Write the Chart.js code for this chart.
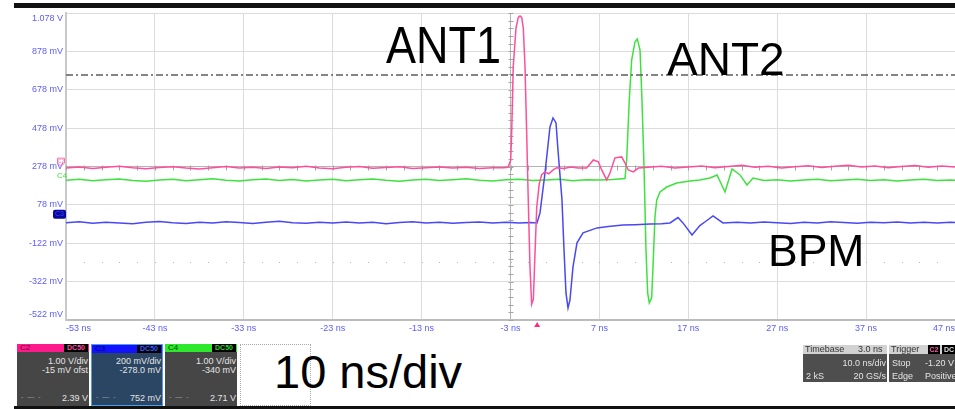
<!DOCTYPE html>
<html>
<head>
<meta charset="utf-8">
<script src="https://cdn.jsdelivr.net/npm/chart.js@4/dist/chart.umd.min.js"></script>
<style>
  html, body { margin:0; padding:0; background:#fff; }
  body { width:955px; height:409px; overflow:hidden; position:relative; font-family:'Liberation Sans', Arial, sans-serif; }
  #wrap { position:absolute; left:0; top:0; width:955px; height:340px; }
  .bar { position:absolute; background:#111; }
  .anno { position:absolute; color:#000; line-height:1; white-space:nowrap; font-family:'Liberation Sans', Arial, sans-serif; }
  .panel { position:absolute; overflow:hidden; box-sizing:border-box; font-size:9px; color:#e4e4e4; }
  .hdr { position:absolute; left:0; top:0; right:0; height:8px; font-size:8px; line-height:8px; }
  .hdr .cn { position:absolute; left:3px; top:0; }
  .hdr .badge { position:absolute; right:1px; top:0; width:24px; height:8px; background:#000; font-size:7px; line-height:8px; text-align:center; font-weight:bold; }
  .ln { position:absolute; left:0; right:1px; text-align:right; white-space:nowrap; line-height:10px; }
  .dash { position:absolute; left:4px; color:#9a9a9a; font-size:7px; letter-spacing:1px; }
  .lft { position:absolute; left:3px; white-space:nowrap; line-height:10px; }
  .col2 { position:absolute; left:36px; white-space:nowrap; line-height:10px; }
</style>
</head>
<body>
<div class="bar" style="left:14px;top:3px;width:941px;height:5px;"></div>
<div id="wrap"><canvas id="c" width="955" height="340"></canvas></div>

<div class="anno" style="left:386px;top:25px;font-size:45px;transform:scaleY(1.15);transform-origin:0 38px;">ANT1</div>
<div class="anno" style="left:667px;top:36px;font-size:46px;">ANT2</div>
<div class="anno" style="left:768px;top:229px;font-size:44.5px;">BPM</div>

<!-- status bar -->
<div class="panel" style="left:17px;top:344px;width:72px;height:62px;background:#464646;">
  <div class="hdr" style="background:#ff1a8c;"><span class="cn" style="color:#6e0036;">C2</span><span class="badge" style="color:#ff4da6;">DC50</span></div>
  <div class="ln" style="top:12px;">1.00 V/div</div>
  <div class="ln" style="top:21px;">-15 mV ofst</div>
  <div class="dash" style="top:49px;">- — -</div>
  <div class="ln" style="top:49px;">2.39 V</div>
</div>
<div class="panel" style="left:91px;top:344px;width:72px;height:62px;background:#2b4663;border:1px solid #4f9ff0;">
  <div class="hdr" style="background:#1212ff;"><span class="cn" style="color:#000070;">C3</span><span class="badge" style="color:#3a5cff;">DC50</span></div>
  <div class="ln" style="top:11px;">200 mV/div</div>
  <div class="ln" style="top:20px;">-278.0 mV</div>
  <div class="dash" style="top:48px;">- — -</div>
  <div class="ln" style="top:48px;">752 mV</div>
</div>
<div class="panel" style="left:165px;top:344px;width:72px;height:62px;background:#464646;">
  <div class="hdr" style="background:#2ee82e;"><span class="cn" style="color:#004a00;">C4</span><span class="badge" style="color:#2bd62b;">DC50</span></div>
  <div class="ln" style="top:12px;">1.00 V/div</div>
  <div class="ln" style="top:21px;">-340 mV</div>
  <div class="dash" style="top:49px;">- — -</div>
  <div class="ln" style="top:49px;">2.71 V</div>
</div>
<div style="position:absolute;left:240px;top:344px;width:71px;height:62px;border:1px dotted #a8a8a8;box-sizing:border-box;"></div>
<div class="anno" style="left:274px;top:348px;font-size:47px;">10 ns/div</div>

<div class="panel" style="left:803px;top:345px;width:84px;height:37px;background:#4e4e4e;">
  <div class="hdr" style="background:#d2d2d2;color:#333;font-size:9px;height:9px;line-height:9px;"><span class="cn" style="left:2px;">Timebase</span><span style="position:absolute;left:55px;">3.0 ns</span></div>
  <div class="ln" style="top:13px;">10.0 ns/div</div>
  <div class="lft" style="top:26px;">2 kS</div>
  <div class="ln" style="top:26px;">20 GS/s</div>
</div>
<div class="panel" style="left:889px;top:345px;width:70px;height:37px;background:#4e4e4e;">
  <div class="hdr" style="background:#d2d2d2;color:#333;font-size:9px;height:9px;line-height:9px;"><span class="cn" style="left:2px;">Trigger</span>
    <span style="position:absolute;left:39px;top:0;width:12px;height:9px;background:#000;color:#ff5aa8;font-size:7px;font-weight:bold;text-align:center;">C2</span>
    <span style="position:absolute;left:53px;top:0;width:14px;height:9px;background:#000;color:#ddd;font-size:7px;font-weight:bold;text-align:center;">DC</span></div>
  <div class="lft" style="top:13px;">Stop</div><div class="col2" style="top:13px;">-1.20 V</div>
  <div class="lft" style="top:26px;">Edge</div><div class="col2" style="top:26px;">Positive</div>
</div>
<div class="bar" style="left:14px;top:406px;width:941px;height:3px;"></div>

<script>
// ---- axis ticks ----
const xTickValues = [-53, -43, -33, -23, -13, -3, 7, 17, 27, 37, 47];
const xTickLabels = ['-53 ns', '-43 ns', '-33 ns', '-23 ns', '-13 ns', '-3 ns', '7 ns', '17 ns', '27 ns', '37 ns', '47 ns'];
const yTickValues = [-0.522, -0.322, -0.122, 0.078, 0.278, 0.478, 0.678, 0.878, 1.078];
const yTickLabels = ['-522 mV', '-322 mV', '-122 mV', '78 mV', '278 mV', '478 mV', '678 mV', '878 mV', '1.078 V'];

// ---- C2 : ANT1 (pink) ----
const ant1Time = [-53,-51.5,-50,-48.5,-47,-45.5,-44,-42.5,-41,-39.5,-38,-36.5,-35,-33.5,-32,-30.5,-29,-27.5,-26,-24.5,-23,-21.5,-20,-18.5,-17,-15.5,-14,-12.5,-11,-9.5,-8,-6.5,-5,-3.8,-3.28,
  -2.98,-2.87,-2.69,-2.38,-2.12,-1.93,-1.74,-1.56,-1.37,-1.18,-1.0,-0.81,-0.62,-0.43,-0.24,-0.05,
  0.24,0.51,0.88,1.3,1.8,2.2,3.0,3.8,4.6,
  5.57,6.31,6.88,7.26,7.82,8.19,8.75,9.51,9.88,10.25,10.81,11.38,
  12.5,14,15.5,17,18.5,20,21.5,23,24.5,26,27.5,29,30.5,32,33.5,35,36.5,38,39.5,41,42.5,44,45.5,47];
const ant1Volt = [0.270,0.276,0.268,0.274,0.279,0.271,0.266,0.273,0.277,0.270,0.265,0.272,0.278,0.270,0.274,0.268,0.276,0.271,0.279,0.270,0.266,0.274,0.278,0.269,0.273,0.277,0.268,0.272,0.276,0.270,0.274,0.267,0.272,0.271,0.274,
  0.31,0.45,0.80,1.00,1.055,1.062,1.055,1.00,0.80,0.45,0.10,-0.245,-0.44,-0.415,-0.17,0.065,
  0.19,0.235,0.25,0.24,0.26,0.272,0.268,0.275,0.27,
  0.27,0.312,0.302,0.26,0.208,0.244,0.323,0.328,0.296,0.26,0.25,0.27,
  0.274,0.279,0.270,0.276,0.281,0.272,0.278,0.284,0.274,0.279,0.270,0.277,0.282,0.273,0.279,0.285,0.275,0.280,0.272,0.278,0.283,0.274,0.280,0.276];

// ---- C4 : ANT2 (green) ----
const ant2Time = [-53,-51.5,-50,-48.5,-47,-45.5,-44,-42.5,-41,-39.5,-38,-36.5,-35,-33.5,-32,-30.5,-29,-27.5,-26,-24.5,-23,-21.5,-20,-18.5,-17,-15.5,-14,-12.5,-11,-9.5,-8,-6.5,-5,-3.5,-2,-0.5,1,2.5,4,5.5,7,8.5,
  9.88,10.07,10.36,10.63,11.0,11.26,11.57,11.79,12.02,12.24,12.43,12.61,12.88,13.06,13.25,13.45,13.82,14.57,15.7,17.19,18.3,19.44,20.23,21.13,21.92,22.82,23.6,24.28,
  25.5,27,28.5,30,31.5,33,34.5,36,37.5,39,40.5,42,43.5,45,46.5,47];
const ant2Volt = [0.206,0.211,0.204,0.209,0.213,0.205,0.201,0.208,0.212,0.204,0.209,0.214,0.206,0.202,0.209,0.213,0.205,0.210,0.203,0.208,0.212,0.204,0.209,0.213,0.206,0.201,0.208,0.211,0.205,0.209,0.214,0.206,0.203,0.209,0.212,0.205,0.208,0.211,0.204,0.209,0.207,0.210,
  0.215,0.312,0.625,0.833,0.927,0.943,0.885,0.625,0.276,-0.157,-0.381,-0.433,-0.407,-0.209,0.015,0.104,0.145,0.171,0.192,0.203,0.208,0.218,0.234,0.145,0.265,0.234,0.182,0.218,
  0.205,0.209,0.203,0.207,0.211,0.204,0.208,0.212,0.205,0.209,0.203,0.207,0.211,0.205,0.208,0.206];

// ---- C3 : BPM (blue) ----
const bpmTime = [-53,-51.5,-50,-48.5,-47,-45.5,-44,-42.5,-41,-39.5,-38,-36.5,-35,-33.5,-32,-30.5,-29,-27.5,-26,-24.5,-23,-21.5,-20,-18.5,-17,-15.5,-14,-12.5,-11,-9.5,-8,-6.5,-5,-3.5,-2,-0.8,-0.02,
  0.32,0.88,1.44,1.78,2.12,2.34,2.79,3.02,3.24,3.47,3.69,4.03,4.48,
  5.16,6.73,8,9.65,11,12.69,14,14.94,15.84,16.4,17.42,18.3,18.9,19.78,20.9,
  22.5,24,25.5,27,28.5,30,31.5,33,34.5,36,37.5,39,40.5,42,43.5,45,46.5,47];
const bpmVolt = [-0.015,-0.010,-0.018,-0.012,-0.016,-0.020,-0.013,-0.009,-0.015,-0.019,-0.012,-0.016,-0.010,-0.014,-0.019,-0.013,-0.008,-0.015,-0.018,-0.012,-0.016,-0.011,-0.017,-0.013,-0.020,-0.014,-0.010,-0.016,-0.012,-0.018,-0.014,-0.011,-0.016,-0.013,-0.017,-0.014,-0.016,
  0.036,0.244,0.484,0.531,0.505,0.364,0.104,-0.157,-0.381,-0.459,-0.417,-0.245,-0.120,
  -0.068,-0.042,-0.035,-0.027,-0.025,-0.022,-0.020,-0.016,0.012,-0.016,-0.079,-0.030,-0.010,0.020,-0.016,
  -0.013,-0.017,-0.011,-0.015,-0.019,-0.012,-0.016,-0.010,-0.014,-0.018,-0.012,-0.015,-0.011,-0.017,-0.013,-0.016,-0.012,-0.014];

// ---- reference levels ----
const triggerLevelTime = [-53, 47];
const triggerLevelVolt = [0.755, 0.755];
const triggerTime = 0;
const centerTime = -3;
const centerVolt = 0.278;
const dotRowVolt = -0.222;
const c2Offset = 0.272;
const c4Offset = 0.208;
const c3Offset = -0.015;

const pts = (t, v) => t.map((x, i) => ({ x: x, y: v[i] }));

const decor = {
  id: 'decor',
  beforeDatasetsDraw(chart) {
    const { ctx, chartArea: a, scales: { x, y } } = chart;
    ctx.save();
    ctx.strokeStyle = '#a4a4a4';
    ctx.lineWidth = 1;
    const cx = Math.round(x.getPixelForValue(centerTime)) + 0.5;
    const cy = Math.round(y.getPixelForValue(centerVolt)) + 0.5;
    ctx.beginPath();
    for (let k = 0; k <= 40; k++) {
      const py = Math.round(y.getPixelForValue(-0.522 + k * 0.04)) + 0.5;
      ctx.moveTo(cx - 3, py); ctx.lineTo(cx + 2, py);
    }
    for (let k = 0; k <= 50; k++) {
      const px = Math.round(x.getPixelForValue(-53 + k * 2)) + 0.5;
      ctx.moveTo(px, cy - 2); ctx.lineTo(px, cy + 3);
    }
    ctx.stroke();
    ctx.fillStyle = '#b8b8b8';
    const dy = Math.round(y.getPixelForValue(dotRowVolt));
    for (let k = 1; k < 50; k++) {
      const px = Math.round(x.getPixelForValue(-53 + k * 2));
      ctx.fillRect(px, dy, 1, 1);
    }
    ctx.restore();
  },
  afterDraw(chart) {
    const { ctx, chartArea: a, scales: { x, y } } = chart;
    ctx.save();
    // trigger position marker
    const tx = x.getPixelForValue(triggerTime);
    ctx.fillStyle = '#ff2a80';
    ctx.beginPath();
    ctx.moveTo(tx, a.bottom + 2); ctx.lineTo(tx - 3, a.bottom + 7); ctx.lineTo(tx + 3, a.bottom + 7);
    ctx.closePath(); ctx.fill();
    // channel markers
    const y2 = y.getPixelForValue(c2Offset);
    ctx.strokeStyle = '#ff6fae'; ctx.lineWidth = 1;
    ctx.beginPath();
    ctx.moveTo(57.5, y2 - 9.5); ctx.lineTo(64.5, y2 - 9.5); ctx.lineTo(64.5, y2 - 4.5); ctx.lineTo(61, y2 - 1.5); ctx.lineTo(57.5, y2 - 4.5); ctx.closePath();
    ctx.stroke();
    ctx.fillStyle = '#ff6fae'; ctx.font = '5px Liberation Sans, Arial'; ctx.textAlign = 'center'; ctx.textBaseline = 'middle';
    ctx.fillText('C2', 61, y2 - 6.5);
    const y4 = y.getPixelForValue(c4Offset);
    ctx.fillStyle = '#3ee23e'; ctx.font = '8px Liberation Sans, Arial'; ctx.textAlign = 'left'; ctx.textBaseline = 'alphabetic';
    ctx.fillText('C4', 57, y4 - 1.5);
    const y3 = y.getPixelForValue(c3Offset);
    ctx.fillStyle = '#08089c';
    ctx.beginPath();
    if (ctx.roundRect) ctx.roundRect(53, y3 - 13, 13, 9, 2); else ctx.rect(53, y3 - 13, 13, 9);
    ctx.fill();
    ctx.fillStyle = '#3a46ff'; ctx.font = '7px Liberation Sans, Arial'; ctx.textAlign = 'center'; ctx.textBaseline = 'middle';
    ctx.fillText('C3', 59.5, y3 - 8.5);
    ctx.restore();
  }
};

const tickFont = { family: 'Liberation Sans, Arial, sans-serif', size: 9 };
const tickColor = '#5c5cff';

new Chart(document.getElementById('c'), {
  type: 'line',
  data: {
    datasets: [
      { label: 'ANT1', data: pts(ant1Time, ant1Volt), borderColor: '#ff4f9a', borderWidth: 1.5, order: 1 },
      { label: 'BPM', data: pts(bpmTime, bpmVolt), borderColor: '#4848f4', borderWidth: 1.5, order: 2 },
      { label: 'ANT2', data: pts(ant2Time, ant2Volt), borderColor: '#3ee23e', borderWidth: 1.5, order: 3 },
      { label: 'Trigger level', data: pts(triggerLevelTime, triggerLevelVolt), borderColor: '#5c5c5c', borderWidth: 1.6, borderDash: [7, 3, 2, 3], order: 0 }
    ]
  },
  options: {
    responsive: false,
    animation: false,
    events: [],
    layout: { padding: { top: 13, left: 0, right: 0, bottom: 0 } },
    elements: { point: { radius: 0 }, line: { tension: 0, fill: false } },
    plugins: { legend: { display: false }, tooltip: { enabled: false } },
    scales: {
      x: {
        type: 'linear', min: -53, max: 47,
        afterBuildTicks: s => { s.ticks = xTickValues.map(v => ({ value: v })); },
        afterFit: s => { s.height = 20; s.paddingLeft = 0; s.paddingRight = 0; },
        ticks: { align: 'inner', autoSkip: false, maxRotation: 0, padding: 3, font: tickFont, color: tickColor,
                 callback: (v, i) => xTickLabels[i] },
        grid: { drawTicks: false, lineWidth: 1,
                color: c => (c.tick && c.tick.value === centerTime) ? '#b4b4b4' : '#dcdcdc' },
        border: { color: '#bcbcbc', width: 2 }
      },
      y: {
        type: 'linear', min: -0.522, max: 1.078,
        afterBuildTicks: s => { s.ticks = yTickValues.map(v => ({ value: v })); },
        afterFit: s => { s.width = 66; s.paddingTop = 0; s.paddingBottom = 0; },
        ticks: { autoSkip: false, padding: 3, font: tickFont, color: tickColor,
                 callback: (v, i) => i === 0 ? [yTickLabels[i], ''] : (i === yTickLabels.length - 1 ? ['', yTickLabels[i]] : yTickLabels[i]) },
        grid: { drawTicks: false, lineWidth: 1,
                color: c => (c.tick && Math.abs(c.tick.value - centerVolt) < 1e-6) ? '#b4b4b4' : '#dcdcdc' },
        border: { color: '#c8c8c8', width: 2 }
      }
    }
  },
  plugins: [decor]
});
</script>
</body>
</html>
